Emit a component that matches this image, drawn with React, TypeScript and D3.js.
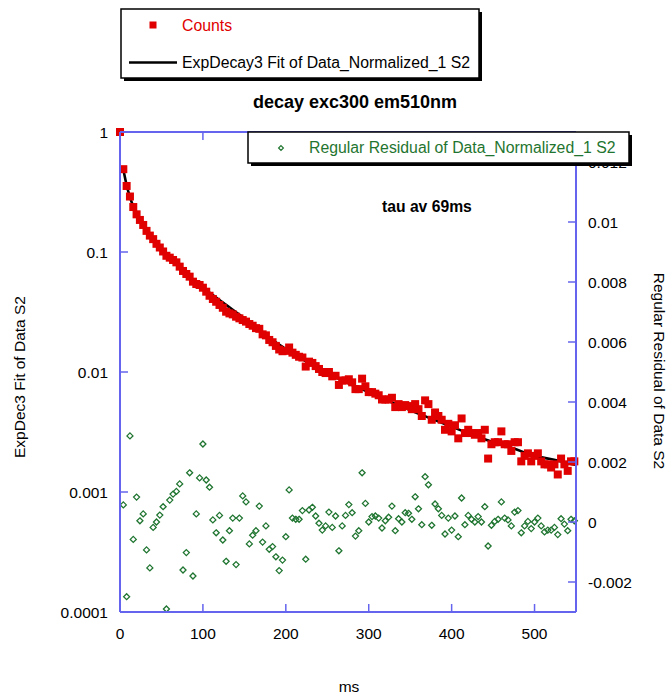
import React from "react";
import * as d3 from "d3";

const W = 671;
const H = 698;
const FONT = "Arial, 'Liberation Sans', sans-serif";
const AXIS = "#6464ee";
const RED = "#e00000";
const GREEN = "#1f7530";

// ---- data ----
const countTimes = [
  0, 4, 8, 12, 16, 20, 24, 28, 32, 36, 40, 44, 48, 52, 56, 60, 64, 68, 72, 76,
  80, 84, 88, 92, 96, 100, 104, 108, 112, 116, 120, 124, 128, 132, 136, 140, 144, 148, 152, 156,
  160, 164, 168, 172, 176, 180, 184, 188, 192, 196, 200, 204, 208, 212, 216, 220, 224, 228, 232, 236,
  240, 244, 248, 252, 256, 260, 264, 268, 272, 276, 280, 284, 288, 292, 296, 300, 304, 308, 312, 316,
  320, 324, 328, 332, 336, 340, 344, 348, 352, 356, 360, 364, 368, 372, 376, 380, 384, 388, 392, 396,
  400, 404, 408, 412, 416, 420, 424, 428, 432, 436, 440, 444, 448, 452, 456, 460, 464, 468, 472, 476,
  480, 484, 488, 492, 496, 500, 504, 508, 512, 516, 520, 524, 528, 532, 536, 540, 544, 548,
];

const counts = [
  1.0, 0.49, 0.355, 0.29, 0.237, 0.206, 0.185, 0.168, 0.15, 0.137,
  0.128, 0.117, 0.109, 0.101, 0.093, 0.0897, 0.0858, 0.082, 0.0755, 0.0695,
  0.0656, 0.0623, 0.0566, 0.0541, 0.0531, 0.0504, 0.0467, 0.0432, 0.0406, 0.0385,
  0.0362, 0.0343, 0.0318, 0.0308, 0.0302, 0.0289, 0.028, 0.0271, 0.0263, 0.0251,
  0.0243, 0.0232, 0.0229, 0.0206, 0.0202, 0.0185, 0.0177, 0.0165, 0.0154, 0.0149,
  0.015, 0.016, 0.0145, 0.0139, 0.0134, 0.0132, 0.0111, 0.0122, 0.0119, 0.0112,
  0.0106, 0.01, 0.0098, 0.01, 0.0092, 0.0093, 0.0078, 0.0085, 0.0085, 0.0087,
  0.0082, 0.0072, 0.0072, 0.0088, 0.0076, 0.0068, 0.0068, 0.0066, 0.0064, 0.0059,
  0.0059, 0.0059, 0.0061, 0.0051, 0.0054, 0.0051, 0.0053, 0.0052, 0.0049, 0.0054,
  0.0049, 0.0043, 0.0058, 0.0054, 0.004, 0.0046, 0.0043, 0.004, 0.0033, 0.0037,
  0.0032, 0.0036, 0.0028, 0.0041, 0.0031, 0.0033, 0.0031, 0.003, 0.0031, 0.0028,
  0.0033, 0.0019, 0.0025, 0.0026, 0.0026, 0.0032, 0.0025, 0.0025, 0.0022, 0.0026,
  0.0026, 0.0018, 0.002, 0.0021, 0.0018, 0.002, 0.0021, 0.0018, 0.0017, 0.0017,
  0.0016, 0.0017, 0.0014, 0.0019, 0.0017, 0.0015, 0.0018, 0.0018,
];

const residualTimes = [
  4, 8, 12, 16, 20, 24, 28, 32, 36, 40, 44, 48, 52, 56, 60, 64, 68, 72, 76,
  80, 84, 88, 92, 96, 100, 104, 108, 112, 116, 120, 124, 128, 132, 136, 140, 144, 148, 152, 156,
  160, 164, 168, 172, 176, 180, 184, 188, 192, 196, 200, 204, 208, 212, 216, 220, 224, 228, 232, 236,
  240, 244, 248, 252, 256, 260, 264, 268, 272, 276, 280, 284, 288, 292, 296, 300, 304, 308, 312, 316,
  320, 324, 328, 332, 336, 340, 344, 348, 352, 356, 360, 364, 368, 372, 376, 380, 384, 388, 392, 396,
  400, 404, 408, 412, 416, 420, 424, 428, 432, 436, 440, 444, 448, 452, 456, 460, 464, 468, 472, 476,
  480, 484, 488, 492, 496, 500, 504, 508, 512, 516, 520, 524, 528, 532, 536, 540, 544, 548,
];

const residuals = [
  0.00057, -0.00249, 0.00287, -0.00058, 0.00083, 0.00004, 0.00027, -0.00093, -0.00153,
  -0.00018, 0.0, 0.00023, 0.00051, -0.0029, 0.00073, 0.00093, 0.00102, 0.00127, -0.0016,
  -0.00102, 0.00164, -0.0018, 0.00027, 0.00147, 0.0026, 0.0014, 0.00116, 0.00007, -0.00036,
  0.00022, -0.0006, -0.00131, -0.00029, 0.00013, -0.00142, 0.00013, 0.00087, 0.00067, -0.00073,
  -0.00044, -0.00029, 0.00053, -0.00067, -0.00013, -0.00091, -0.00082, -0.00116, -0.00162, -0.00127,
  -0.00049, 0.00107, 0.00013, 0.00009, 0.00009, 0.00038, -0.00124, 0.0004, 0.00049, 0.0002,
  -0.00004, -0.00027, -0.00013, 0.00033, -0.00018, 0.0002, -0.00096, -0.00013, 0.00022, 0.00058,
  0.00031, -0.00047, -0.00029, 0.00164, 0.00062, 0.0, 0.00018, 0.0002, 0.00013, -0.0002,
  0.00004, 0.00016, 0.00053, -0.00029, 0.00011, 0.0, 0.00031, 0.00029, 0.00009, 0.00084,
  0.00044, -0.00009, 0.00151, 0.00124, -0.00011, 0.0006, 0.00044, 0.00022, -0.0004, 0.00013,
  -0.00027, 0.0002, -0.00049, 0.0008, -0.00009, 0.00022, 0.00009, 0.0, 0.00018, 0.0,
  0.00051, -0.0008, -0.00011, 0.00002, 0.00009, 0.00067, 0.00013, 0.00007, -0.00013, 0.00033,
  0.00038, -0.00036, -0.00013, 0.00002, -0.00022, 0.0, 0.00013, -0.00013, -0.00033, -0.00027,
  -0.00027, -0.00018, -0.00042, 0.00011, -0.00007, -0.00029, 0.00009, 0.00004,
];

const fitTimes = [
  4, 8, 12, 16, 20, 28, 36, 44, 52, 60, 72, 84, 100, 125, 150, 175, 200, 225, 250, 275,
  300, 325, 350, 375, 400, 425, 450, 475, 500, 525, 550,
];
const fitValues = [
  0.49, 0.36, 0.287, 0.24, 0.208, 0.168, 0.139, 0.118, 0.101, 0.0895, 0.075, 0.062, 0.0505,
  0.0375, 0.028, 0.0205, 0.0155, 0.0122, 0.0098, 0.0081, 0.0068, 0.0057, 0.0048, 0.0041,
  0.0035, 0.003, 0.0026, 0.0023, 0.002, 0.00185, 0.00168,
];

const xTicks = [0, 100, 200, 300, 400, 500];
const xTickLabels = ["0", "100", "200", "300", "400", "500"];
const yLeftTicks = [1, 0.1, 0.01, 0.001, 0.0001];
const yLeftLabels = ["1", "0.1", "0.01", "0.001", "0.0001"];
const yRightTicks = [-0.002, 0, 0.002, 0.004, 0.006, 0.008, 0.01, 0.012];
const yRightLabels = ["-0.002", "0", "0.002", "0.004", "0.006", "0.008", "0.01", "0.012"];

const title = "decay exc300 em510nm";
const annotation = "tau av 69ms";
const legendCounts = "Counts";
const legendFit = "ExpDecay3 Fit of Data_Normalized_1 S2";
const legendResidual = "Regular Residual of Data_Normalized_1 S2";
const xTitle = "ms";
const yLeftTitle = "ExpDec3 Fit of Data S2";
const yRightTitle = "Regular Residual of Data S2";

export default function App() {
  const L = 120, R = 576, T = 132, B = 612;
  const x = d3.scaleLinear().domain([0, 550]).range([L, R]);
  const yL = d3.scaleLog().domain([0.0001, 1]).range([B, T]);
  const yR = d3.scaleLinear().domain([-0.003, 0.013]).range([B, T]);
  const tick = 8;
  const sq = 8;
  const dm = 3;

  const fitPath = d3
    .line<number>()
    .x((_, i) => x(fitTimes[i]))
    .y((v) => yL(v))
    .curve(d3.curveMonotoneX)(fitValues) as string;

  const diamond = (cx: number, cy: number, r: number) =>
    `M${cx},${cy - r}L${cx + r},${cy}L${cx},${cy + r}L${cx - r},${cy}Z`;

  return (
    <svg
      width={W}
      height={H}
      style={{ position: "absolute", left: 0, top: 0, background: "#fff" }}
      fontFamily={FONT}
    >
      <defs>
        <clipPath id="belowLegend">
          <rect x={580} y={166} width={91} height={532} />
        </clipPath>
      </defs>
      <rect x={0} y={0} width={W} height={H} fill="#fff" />

      {/* fit line */}
      <path d={fitPath} fill="none" stroke="#000" strokeWidth={2.6} />

      {/* counts */}
      {counts.map((v, i) => (
        <rect
          key={"c" + i}
          x={x(countTimes[i]) - sq / 2}
          y={yL(v) - sq / 2}
          width={sq}
          height={sq}
          fill={RED}
        />
      ))}

      {/* residuals */}
      {residuals.map((v, i) => (
        <path
          key={"r" + i}
          d={diamond(x(residualTimes[i]), yR(v), dm)}
          fill="none"
          stroke={GREEN}
          strokeWidth={1.3}
        />
      ))}

      {/* axes frame */}
      <line x1={L} y1={T} x2={L} y2={B} stroke={AXIS} strokeWidth={2} />
      <line x1={R} y1={T} x2={R} y2={B} stroke={AXIS} strokeWidth={2} />
      <line x1={L} y1={T} x2={R} y2={T} stroke={AXIS} strokeWidth={2} />
      <line x1={L} y1={B} x2={R} y2={B} stroke={AXIS} strokeWidth={2} />

      {/* bottom ticks + top ticks */}
      {xTicks.map((t, i) => (
        <g key={"xt" + i}>
          <line x1={x(t)} y1={B} x2={x(t)} y2={B - tick} stroke={AXIS} strokeWidth={1.5} />
          <line x1={x(t)} y1={T} x2={x(t)} y2={T + tick} stroke={AXIS} strokeWidth={1.5} />
          <text x={x(t)} y={639} textAnchor="middle" fontSize={15.5} fill="#000">
            {xTickLabels[i]}
          </text>
        </g>
      ))}

      {/* left ticks */}
      {yLeftTicks.map((t, i) => (
        <g key={"yl" + i}>
          <line x1={L} y1={yL(t)} x2={L + tick} y2={yL(t)} stroke={AXIS} strokeWidth={1.5} />
          <text x={108} y={yL(t) + 5.5} textAnchor="end" fontSize={15.5} fill="#000">
            {yLeftLabels[i]}
          </text>
        </g>
      ))}

      {/* right ticks */}
      {yRightTicks.map((t, i) => (
        <g key={"yr" + i}>
          <line x1={R} y1={yR(t)} x2={R - tick} y2={yR(t)} stroke={AXIS} strokeWidth={1.5} />
          <text
            x={588}
            y={yR(t) + 5.5}
            textAnchor="start"
            fontSize={15.5}
            fill="#000"
            clipPath="url(#belowLegend)"
          >
            {yRightLabels[i]}
          </text>
        </g>
      ))}

      {/* axis titles */}
      <text x={349} y={692} textAnchor="middle" fontSize={15.5} fill="#000">
        {xTitle}
      </text>
      <text
        transform={`translate(25,377) rotate(-90)`}
        textAnchor="middle"
        fontSize={15.5}
        fill="#000"
      >
        {yLeftTitle}
      </text>
      <text
        transform={`translate(654,371) rotate(90)`}
        textAnchor="middle"
        fontSize={15.5}
        fill="#000"
      >
        {yRightTitle}
      </text>

      {/* title */}
      <text x={355} y={108} textAnchor="middle" fontSize={18} fontWeight="bold" fill="#000">
        {title}
      </text>

      {/* annotation */}
      <text x={382} y={212} fontSize={15.7} fontWeight="bold" fill="#000">
        {annotation}
      </text>

      {/* legend 1 */}
      <rect x={124} y={12} width={358} height={69} fill="#000" />
      <rect x={121} y={9} width={358} height={69} fill="#fff" stroke="#000" strokeWidth={1.5} />
      <rect x={149.5} y={21.5} width={7} height={7} fill={RED} />
      <text x={182} y={31} fontSize={15.8} fill={RED}>
        {legendCounts}
      </text>
      <line x1={129} y1={62.5} x2={177} y2={62.5} stroke="#000" strokeWidth={2.6} />
      <text x={182} y={68} fontSize={15.8} fill="#000">
        {legendFit}
      </text>

      {/* legend 2 */}
      <rect x={251} y={135} width={381} height={31} fill="#000" />
      <rect x={248} y={132} width={381} height={31} fill="#fff" stroke="#000" strokeWidth={1.5} />
      <path d={diamond(281, 148, 2.4)} fill="none" stroke={GREEN} strokeWidth={1.2} />
      <text x={309} y={153} fontSize={15.8} fill={GREEN}>
        {legendResidual}
      </text>
    </svg>
  );
}
